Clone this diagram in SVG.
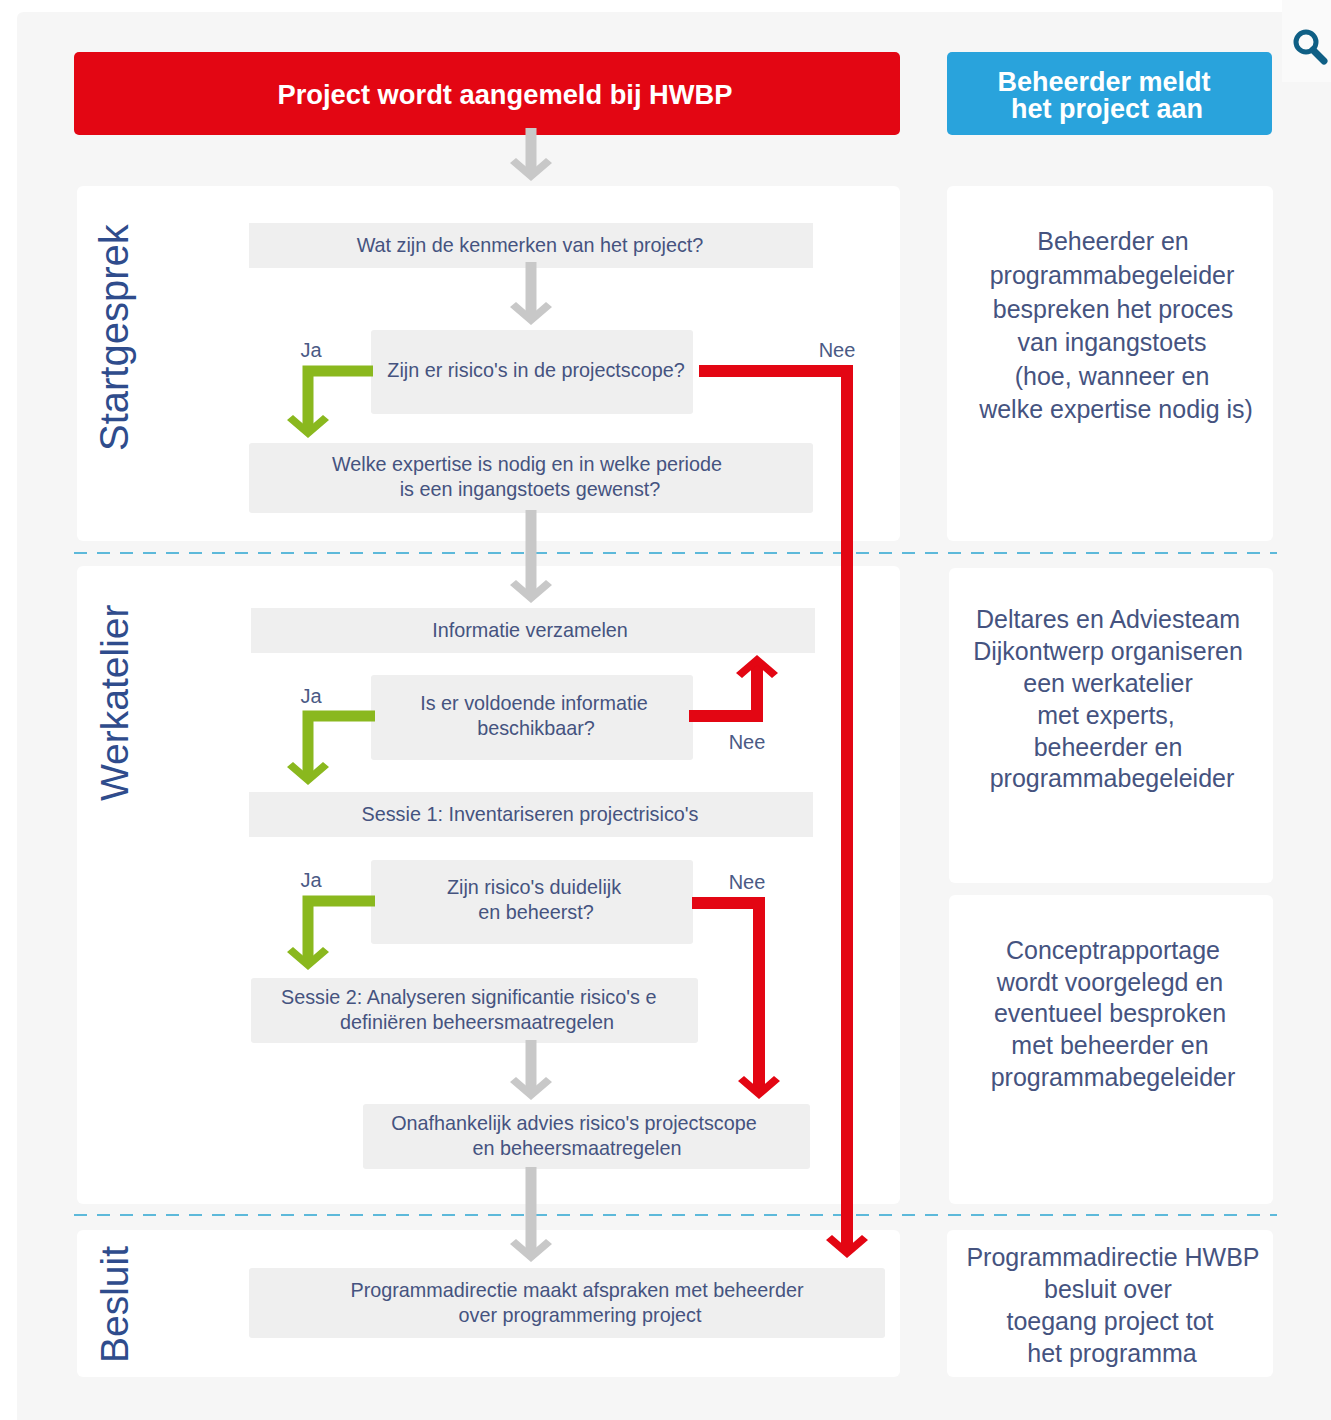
<svg xmlns="http://www.w3.org/2000/svg" width="1331" height="1420" viewBox="0 0 1331 1420">
<style>
text{font-family:"Liberation Sans",Arial,sans-serif;fill:#45537f;text-anchor:middle}
.panel{fill:#ffffff}
.box{fill:#efefef}
.t{font-size:19.8px}
.r{font-size:25px}
.lab{font-size:20px;fill:#4a5a85}
.sec{font-size:39px;fill:#2f4c8c;text-anchor:start}
.hd{fill:#ffffff;font-weight:bold}
.grey,.green,.red{fill:none;stroke-linejoin:miter}
.grey{stroke:#c8c8c8;stroke-width:11}
.green{stroke:#8ab81e;stroke-width:11}
.red{stroke:#e30613;stroke-width:12}
.dash{stroke:#5db9da;stroke-width:2;stroke-dasharray:13 10;fill:none}
</style>
<defs>
<marker id="hg" markerUnits="userSpaceOnUse" markerWidth="60" markerHeight="60" refX="30" refY="30" orient="auto" viewBox="0 0 60 60"><path d="M38 30L20 9L15 15L28 30L15 45L20 51Z" fill="#c8c8c8"/></marker>
<marker id="hn" markerUnits="userSpaceOnUse" markerWidth="60" markerHeight="60" refX="30" refY="30" orient="auto" viewBox="0 0 60 60"><path d="M38 30L20 9L15 15L28 30L15 45L20 51Z" fill="#8ab81e"/></marker>
<marker id="hr" markerUnits="userSpaceOnUse" markerWidth="60" markerHeight="60" refX="30" refY="30" orient="auto" viewBox="0 0 60 60"><path d="M38 30L20 9L15 15L28 30L15 45L20 51Z" fill="#e30613"/></marker>
<clipPath id="clipH"><rect x="251" y="978" width="406" height="65"/></clipPath>
</defs>
<rect width="1331" height="1420" fill="#ffffff"/>
<rect x="1282" y="0" width="49" height="82" fill="#fafafa"/>
<path d="M24 12H1282V82H1331V1420H17V19Q17 12 24 12Z" fill="#f6f6f6"/>
<g id="panels">
<rect class="panel" x="77" y="186" width="823" height="355" rx="6"/>
<rect class="panel" x="77" y="566" width="823" height="638" rx="6"/>
<rect class="panel" x="77" y="1230" width="823" height="147" rx="6"/>
<rect class="panel" x="947" y="186" width="326" height="355" rx="6"/>
<rect class="panel" x="949" y="568" width="324" height="315" rx="6"/>
<rect class="panel" x="949" y="895" width="324" height="309" rx="6"/>
<rect class="panel" x="947" y="1230" width="326" height="147" rx="6"/>
</g>
<g id="header-red"><rect x="74" y="52" width="826" height="83" rx="5" fill="#e30613"/><text class="hd" x="505" y="104" font-size="27.3">Project wordt aangemeld bij HWBP</text></g>
<g id="header-blue"><rect x="947" y="52" width="325" height="83" rx="5" fill="#29a3dc"/><text class="hd" x="1104" y="91" font-size="27">Beheerder meldt</text><text class="hd" x="1107" y="118" font-size="27">het project aan</text></g>
<g id="n1"><rect class="box" x="249" y="223" width="564" height="45"/><text class="t" x="530" y="252">Wat zijn de kenmerken van het project?</text></g>
<g id="n2"><rect class="box" x="371" y="330" width="322" height="84" rx="3"/><text class="t" x="536" y="377">Zijn er risico's in de projectscope?</text></g>
<g id="n3"><rect class="box" x="249" y="443" width="564" height="70" rx="3"/><text class="t" x="527" y="471">Welke expertise is nodig en in welke periode</text><text class="t" x="530" y="496">is een ingangstoets gewenst?</text></g>
<g id="n4"><rect class="box" x="251" y="608" width="564" height="45"/><text class="t" x="530" y="637">Informatie verzamelen</text></g>
<g id="n5"><rect class="box" x="371" y="675" width="322" height="85" rx="3"/><text class="t" x="534" y="710">Is er voldoende informatie</text><text class="t" x="536" y="735">beschikbaar?</text></g>
<g id="n6"><rect class="box" x="249" y="792" width="564" height="45"/><text class="t" x="530" y="821">Sessie 1: Inventariseren projectrisico's</text></g>
<g id="n7"><rect class="box" x="371" y="860" width="322" height="84" rx="3"/><text class="t" x="534" y="894">Zijn risico's duidelijk</text><text class="t" x="536" y="919">en beheerst?</text></g>
<g id="n8"><rect class="box" x="251" y="978" width="447" height="65" rx="3"/><text class="t" x="281" y="1004" clip-path="url(#clipH)" style="text-anchor:start">Sessie 2: Analyseren significantie risico's en</text><text class="t" x="477" y="1029">definiëren beheersmaatregelen</text></g>
<g id="n9"><rect class="box" x="363" y="1104" width="447" height="65" rx="3"/><text class="t" x="574" y="1130">Onafhankelijk advies risico's projectscope</text><text class="t" x="577" y="1155">en beheersmaatregelen</text></g>
<g id="n10"><rect class="box" x="249" y="1268" width="636" height="70" rx="3"/><text class="t" x="577" y="1297">Programmadirectie maakt afspraken met beheerder</text><text class="t" x="580" y="1322">over programmering project</text></g>
<g id="sections">
<text class="sec" font-size="40" style="font-size:40px" transform="translate(128 451) rotate(-90)">Startgesprek</text>
<text class="sec" transform="translate(128 801) rotate(-90)">Werkatelier</text>
<text class="sec" transform="translate(128 1363) rotate(-90)">Besluit</text>
</g>
<g id="side1"><text class="r" x="1113" y="250">Beheerder en</text><text class="r" x="1112" y="284">programmabegeleider</text><text class="r" x="1113" y="318">bespreken het proces</text><text class="r" x="1112" y="351">van ingangstoets</text><text class="r" x="1112" y="385">(hoe, wanneer en</text><text class="r" x="1116" y="418">welke expertise nodig is)</text></g>
<g id="side2"><text class="r" x="1108" y="628">Deltares en Adviesteam</text><text class="r" x="1108" y="660">Dijkontwerp organiseren</text><text class="r" x="1108" y="692">een werkatelier</text><text class="r" x="1106" y="724">met experts,</text><text class="r" x="1108" y="756">beheerder en</text><text class="r" x="1112" y="787">programmabegeleider</text></g>
<g id="side3"><text class="r" x="1113" y="959">Conceptrapportage</text><text class="r" x="1110" y="991">wordt voorgelegd en</text><text class="r" x="1110" y="1022">eventueel besproken</text><text class="r" x="1110" y="1054">met beheerder en</text><text class="r" x="1113" y="1086">programmabegeleider</text></g>
<g id="side4"><text class="r" x="1113" y="1266">Programmadirectie HWBP</text><text class="r" x="1108" y="1298">besluit over</text><text class="r" x="1110" y="1330">toegang project tot</text><text class="r" x="1112" y="1362">het programma</text></g>
<g id="connectors">
<path class="dash" d="M74 553H1277"/>
<path class="dash" d="M74 1215H1277"/>
<path class="grey" d="M531 128V173" marker-end="url(#hg)"/>
<path class="grey" d="M531 262V317" marker-end="url(#hg)"/>
<path class="grey" d="M531 510V595" marker-end="url(#hg)"/>
<path class="grey" d="M531 1040V1092" marker-end="url(#hg)"/>
<path class="grey" d="M531 1167V1254" marker-end="url(#hg)"/>
<path class="green" d="M373 371H308V430" marker-end="url(#hn)"/>
<path class="green" d="M375 716H308V777" marker-end="url(#hn)"/>
<path class="green" d="M375 901H308V962" marker-end="url(#hn)"/>
<path class="red" d="M699 371H847V1250" marker-end="url(#hr)"/>
<path class="red" d="M689 716H757V663" marker-end="url(#hr)"/>
<path class="red" d="M692 903H759V1091" marker-end="url(#hr)"/>
</g>
<g id="labels">
<text class="lab" x="311" y="357">Ja</text><text class="lab" x="837" y="357">Nee</text>
<text class="lab" x="311" y="703">Ja</text><text class="lab" x="747" y="749">Nee</text>
<text class="lab" x="311" y="887">Ja</text><text class="lab" x="747" y="889">Nee</text>
</g>
<g id="search" fill="none" stroke="#0f5f85"><circle cx="1306" cy="42" r="10" stroke-width="5"/><path d="M1313 50L1324 61" stroke-width="7" stroke-linecap="round"/></g>
</svg>
